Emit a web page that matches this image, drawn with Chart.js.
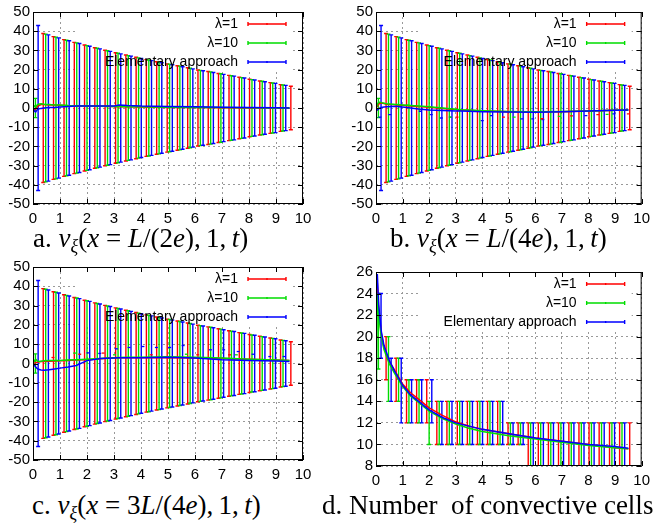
<!DOCTYPE html>
<html>
<head>
<meta charset="utf-8">
<script src="https://cdn.jsdelivr.net/npm/chart.js@4.4.1/dist/chart.umd.min.js"></script>
<style>
  body { margin: 0; background: #fff; width: 656px; height: 527px; overflow: hidden; position: relative; }
  canvas { position: absolute; }
  .cap { position: absolute; font-family: "Liberation Serif", "Times New Roman", serif; font-size: 27px; line-height: 27px; white-space: nowrap; color: #000; }
  .cap sub { font-size: 18px; vertical-align: -5px; }
</style>
</head>
<body>
<canvas id="chartA" width="328" height="232" style="left:0;top:0"></canvas>
<canvas id="chartB" width="328" height="232" style="left:328px;top:0"></canvas>
<canvas id="chartC" width="328" height="232" style="left:0;top:255px"></canvas>
<canvas id="chartD" width="328" height="245" style="left:328px;top:255px"></canvas>

<div class="cap" style="left:33px;top:225px">a. <i>v</i><sub><i>ξ</i></sub>(<i>x</i> = <i>L</i>/(2<i>e</i>),&thinsp;1,&thinsp;<i>t</i>)</div>
<div class="cap" style="left:390px;top:225px">b. <i>v</i><sub><i>ξ</i></sub>(<i>x</i> = <i>L</i>/(4<i>e</i>),&thinsp;1,&thinsp;<i>t</i>)</div>
<div class="cap" style="left:32px;top:492px">c. <i>v</i><sub><i>ξ</i></sub>(<i>x</i> = 3<i>L</i>/(4<i>e</i>),&thinsp;1,&thinsp;<i>t</i>)</div>
<div class="cap" style="left:322px;top:492px">d. Number&nbsp; of convective cells</div>

<script>
// series names and colours
const seriesNames = ['λ=1', 'λ=10', 'Elementary approach'];
const seriesColors = ['#ff0000', '#00dd00', '#0000ff'];

// times of the error bars (each series is shifted a little)
const redT   = [0, 0.38, 0.76, 1.15, 1.53, 1.91, 2.29, 2.67, 3.06, 3.44, 3.82, 4.2, 4.58, 4.97, 5.35, 5.73, 6.11, 6.49, 6.87, 7.26, 7.64, 8.02, 8.4, 8.79, 9.17, 9.55];
const greenT = [0.09, 0.47, 0.85, 1.24, 1.62, 2.0, 2.38, 2.76, 3.15, 3.53, 3.91, 4.29, 4.67, 5.06, 5.44, 5.82, 6.2, 6.58, 6.96, 7.35, 7.73, 8.11, 8.49, 8.88, 9.26];
const blueT  = [0.19, 0.57, 0.95, 1.34, 1.72, 2.1, 2.48, 2.86, 3.25, 3.63, 4.01, 4.39, 4.77, 5.16, 5.54, 5.92, 6.3, 6.68, 7.06, 7.45, 7.83, 8.21, 8.59, 8.98, 9.36];

// spread of the velocity (bars go from -spread to +spread), panels a-c
const redSpread   = [1, 38.8, 37.2, 35.6, 34.2, 32.8, 31.4, 30.1, 28.8, 27.6, 26.4, 25.2, 24.1, 23.0, 22.0, 21.0, 19.8, 19.0, 18.0, 17.0, 16.0, 15.0, 14.1, 13.2, 12.2, 11.3];
const greenSpread = [5, 38.5, 36.9, 35.3, 33.9, 32.5, 31.1, 29.8, 28.5, 27.3, 26.1, 25.0, 23.9, 22.8, 21.8, 20.7, 19.6, 18.8, 17.8, 16.8, 15.8, 14.8, 13.9, 13.0, 12.0];
const blueSpread  = [43, 38.1, 36.5, 35.0, 33.6, 32.2, 30.8, 29.5, 28.2, 27.0, 25.8, 24.7, 23.6, 22.5, 21.5, 20.4, 19.4, 18.5, 17.5, 16.6, 15.6, 14.6, 13.7, 12.8, 11.8];

// mean velocity curves
const lineT  = [0, 0.05, 0.1, 0.15, 0.2, 0.3, 0.4, 0.6, 0.8, 1.0, 1.3, 1.6, 2.0, 2.5, 3.0, 3.2, 3.5, 4.0, 5.0, 6.0, 7.0, 8.0, 9.0, 9.5];
const aRed   = [0, -1.2, -0.5, 0.5, 1.2, 1.8, 1.8, 1.6, 1.5, 1.4, 1.2, 1.1, 1.0, 0.9, 0.8, 0.7, 0.6, 0.5, 0.3, 0.2, 0.1, 0.0, 0.0, 0.0];
const aGreen = [0, 1.0, 0.5, 1.5, 2.0, 2.2, 2.0, 1.8, 1.6, 1.5, 1.3, 1.2, 1.0, 0.9, 0.8, 0.8, 0.7, 0.6, 0.4, 0.3, 0.2, 0.1, 0.0, 0.0];
const aBlue  = [0, -1.5, -2.0, -1.0, -0.5, -0.2, 0.0, 0.2, 0.3, 0.5, 0.8, 1.0, 1.0, 1.0, 1.1, 1.6, 1.3, 1.0, 0.8, 0.6, 0.4, 0.2, 0.1, 0.0];
const bRed   = [0, 1.0, 2.0, 2.5, 2.6, 2.3, 2.0, 1.8, 1.6, 1.4, 1.1, 0.8, 0.4, -0.2, -0.8, -1.0, -1.2, -1.5, -1.9, -2.0, -1.9, -1.5, -1.2, -1.0];
const bGreen = [0, 2.0, 3.0, 3.0, 2.8, 2.5, 2.2, 2.0, 1.8, 1.6, 1.3, 1.0, 0.6, 0.0, -0.6, -0.9, -1.1, -1.4, -1.8, -1.9, -1.8, -1.5, -1.2, -1.0];
const bBlue  = [0, -1.0, -0.5, 0.0, 0.3, 0.5, 0.6, 0.8, 0.8, 0.5, 0.0, -0.5, -1.0, -1.3, -1.5, -1.6, -1.7, -1.9, -2.1, -2.2, -2.0, -1.6, -1.2, -1.0];
const cRed   = [0, 0.2, 0.4, 0.6, 0.8, 1.0, 1.1, 1.2, 1.3, 1.4, 1.6, 1.8, 2.0, 2.5, 3.0, 3.0, 3.0, 3.0, 3.0, 2.9, 2.6, 2.2, 1.8, 1.5];
const cGreen = [0, 1.5, 2.2, 1.5, 1.0, 1.2, 1.4, 1.5, 1.5, 1.6, 1.8, 2.0, 2.2, 2.6, 3.0, 3.1, 3.2, 3.3, 3.5, 3.2, 2.8, 2.2, 1.8, 1.5];
const cBlue  = [0, -0.8, -1.8, -2.5, -3.0, -3.4, -3.5, -3.2, -2.8, -2.4, -1.8, -1.0, 1.5, 2.6, 2.9, 3.0, 3.0, 3.0, 3.3, 2.8, 2.0, 1.6, 1.3, 1.0];

// scattered sample marks seen in panels b and c
const bRedDotT   = [3.05, 4.8, 6.25, 7.36, 8.35, 9.5];
const bRedDotY   = [-4.8, -4.8, -5.6, -4.1, -3.5, -3.1];
const bGreenDotT = [1.2, 2.8, 5.2, 6.9, 8.7];
const bGreenDotY = [1.5, -4.8, -4.8, -4.4, -3.3];
const bBlueDotT  = [0.15, 0.52, 1.67, 2.08, 2.46, 2.8, 4.0, 4.35, 5.49, 5.9, 6.28, 7.9, 8.95];
const bBlueDotY  = [-4.8, -3.5, -1.7, -3.5, -5.2, -4.8, -6.6, -4.0, -5.7, -5.7, -6.0, -4.0, -3.1];
const cRedDotT   = [0.74, 1.73, 2.6, 4.38, 6.1, 7.28];
const cRedDotY   = [3.1, 4.8, 5.4, 4.5, 4.5, 4.5];
const cGreenDotT = [1.54, 3.02, 5.68, 7.53];
const cGreenDotY = [5.4, 4.5, 4.8, 4.5];
const cBlueDotT  = [2.04, 2.47, 3.09, 3.56, 4.07, 4.57, 5.06, 5.56, 6.57, 7.06, 7.6, 8.15, 8.77, 9.3];
const cBlueDotY  = [5.5, 5.2, 7.6, 8.3, 8.8, 8.3, 8.3, 9.3, 7.1, 7.1, 6.2, 4.8, 3.6, 3.6];

// number of convective cells (panel d)
const dT      = [0, 0.05, 0.1, 0.2, 0.3, 0.5, 0.7, 1.0, 1.3, 1.6, 2.0, 2.5, 3.0, 3.5, 4.0, 5.0, 6.0, 7.0, 8.0, 9.0, 9.5];
const dRed    = [22, 25, 22.5, 20.3, 19.0, 17.7, 16.9, 15.6, 14.8, 14.2, 13.4, 12.7, 12.1, 11.7, 11.4, 11.0, 10.6, 10.3, 10.0, 9.7, 9.6];
const dGreen  = [12, 24, 22, 20, 18.8, 17.5, 16.6, 15.4, 14.5, 13.9, 13.1, 12.4, 11.9, 11.5, 11.2, 10.8, 10.5, 10.2, 9.9, 9.7, 9.6];
const dBlue   = [24, 25.8, 23, 20.5, 19.2, 17.8, 16.8, 15.5, 14.6, 14.0, 13.2, 12.5, 12.0, 11.7, 11.4, 11.0, 10.6, 10.3, 10.0, 9.8, 9.65];
const dRedLo   = [20, 16, 14, 12, 12, 12, 10, 10, 10, 10, 10, 10, 10, 10, 10, 8, 8, 8, 8, 8, 8, 8, 8, 8, 8, 8];
const dRedHi   = [24, 20, 18, 16, 16, 16, 14, 14, 14, 14, 14, 14, 14, 12, 12, 12, 12, 12, 12, 12, 12, 12, 12, 12, 12, 12];
const dGreenLo = [17, 14, 14, 12, 12, 10, 10, 10, 10, 10, 10, 10, 10, 10, 10, 8, 8, 8, 8, 8, 8, 8, 8, 8, 8];
const dGreenHi = [24, 20, 18, 16, 16, 14, 14, 14, 14, 14, 14, 14, 14, 12, 12, 12, 12, 12, 12, 12, 12, 12, 12, 12, 12];
const dBlueLo  = [18, 14, 12, 12, 12, 12, 10, 10, 10, 10, 10, 10, 10, 10, 10, 8, 8, 8, 8, 8, 8, 8, 8, 8, 8];
const dBlueHi  = [24, 18, 18, 16, 16, 16, 14, 14, 14, 14, 14, 14, 14, 12, 12, 12, 12, 12, 12, 12, 12, 12, 12, 12, 12];

const tickFont = { family: '"Liberation Sans", Arial, sans-serif', size: 15 };

// gnuplot-like decorations: opaque key box, error bars, inner ticks, frame, key
const gnuplotLook = {
    id: 'gnuplotLook',
    beforeDatasetsDraw(chart) {
        const { ctx, chartArea: a, scales: { x, y } } = chart;
        ctx.save();
        ctx.fillStyle = '#fff';
        ctx.fillRect(a.left + 44, a.top + 1, a.right - a.left - 54, 59);
        ctx.beginPath();
        ctx.rect(a.left, a.top, a.right - a.left, a.bottom - a.top);
        ctx.clip();
        ctx.lineWidth = 1.4;
        chart.data.datasets.forEach(ds => {
            if (!ds.bars) return;
            ctx.strokeStyle = ds.borderColor;
            ds.bars.x.forEach((t, i) => {
                const px = x.getPixelForValue(t);
                const top = y.getPixelForValue(ds.bars.hi[i]);
                const bot = y.getPixelForValue(ds.bars.lo[i]);
                ctx.beginPath();
                ctx.moveTo(px, top); ctx.lineTo(px, bot);
                ctx.moveTo(px - 2, top); ctx.lineTo(px + 2, top);
                ctx.moveTo(px - 2, bot); ctx.lineTo(px + 2, bot);
                ctx.stroke();
            });
        });
        ctx.restore();
    },
    afterDatasetsDraw(chart) {
        const { ctx, chartArea: a, scales: { x, y } } = chart;
        ctx.save();
        ctx.strokeStyle = '#000';
        ctx.lineWidth = 1;
        ctx.beginPath();
        y.ticks.forEach(t => {
            const py = Math.round(y.getPixelForValue(t.value)) + 0.5;
            ctx.moveTo(a.left, py); ctx.lineTo(a.left + 5, py);
            ctx.moveTo(a.right, py); ctx.lineTo(a.right - 5, py);
        });
        x.ticks.forEach(t => {
            const px = Math.round(x.getPixelForValue(t.value)) + 0.5;
            ctx.moveTo(px, a.bottom); ctx.lineTo(px, a.bottom - 5);
            ctx.moveTo(px, a.top); ctx.lineTo(px, a.top + 5);
        });
        ctx.stroke();
        ctx.strokeRect(a.left + 0.5, a.top + 0.5, a.right - a.left - 1, a.bottom - a.top - 1);

        // key
        ctx.font = '14px "Liberation Sans", Arial, sans-serif';
        ctx.textAlign = 'right';
        ctx.textBaseline = 'middle';
        chart.data.datasets.filter(ds => ds.inKey).forEach((ds, k) => {
            const ky = a.top + 12 + 19 * k;
            ctx.fillStyle = '#000';
            ctx.fillText(ds.label, a.right - 65, ky);
            ctx.strokeStyle = ds.borderColor;
            ctx.lineWidth = 1.4;
            ctx.beginPath();
            ctx.moveTo(a.right - 55, ky); ctx.lineTo(a.right - 17, ky);
            ctx.moveTo(a.right - 55, ky - 2); ctx.lineTo(a.right - 55, ky + 2);
            ctx.moveTo(a.right - 17, ky - 2); ctx.lineTo(a.right - 17, ky + 2);
            ctx.moveTo(a.right - 36, ky - 1); ctx.lineTo(a.right - 36, ky + 1);
            ctx.stroke();
        });
        ctx.restore();
    }
};

function pairs(xs, ys) {
    return xs.map((t, i) => ({ x: t, y: ys[i] }));
}

function makePanel(id, opts) {
    const datasets = opts.series.map((s, k) => ({
        type: 'line',
        label: seriesNames[k],
        inKey: true,
        data: pairs(s.t, s.y),
        borderColor: seriesColors[k],
        borderWidth: 1.5,
        pointRadius: 0,
        tension: 0,
        order: 3 - k,
        bars: s.bars
    }));
    (opts.dots || []).forEach((d, k) => {
        datasets.push({
            type: 'line',
            label: seriesNames[k] + ' samples',
            data: pairs(d.t, d.y),
            showLine: false,
            pointStyle: 'line',
            pointRadius: 1.5,
            borderWidth: 1.3,
            borderColor: seriesColors[k],
            order: 5
        });
    });
    return new Chart(document.getElementById(id), {
        type: 'line',
        data: { datasets },
        plugins: [gnuplotLook],
        options: {
            responsive: false,
            animation: false,
            events: [],
            layout: { padding: { top: opts.top, right: opts.right, left: 0, bottom: 0 } },
            scales: {
                x: {
                    type: 'linear', min: 0, max: 10,
                    ticks: { stepSize: 1, autoSkip: false, color: '#000', font: tickFont, padding: 6, maxRotation: 0 },
                    grid: { color: '#999', lineWidth: 1, drawTicks: false },
                    border: { display: false, dash: [2, 3] },
                    afterFit: s => { s.height = opts.xh; }
                },
                y: {
                    min: opts.ymin, max: opts.ymax,
                    ticks: { stepSize: opts.ystep, autoSkip: false, color: '#000', font: tickFont, padding: 3 },
                    grid: { color: '#999', lineWidth: 1, drawTicks: false },
                    border: { display: false, dash: [2, 3] },
                    afterFit: s => { s.width = opts.yw; }
                }
            },
            plugins: { legend: { display: false }, tooltip: { enabled: false } }
        }
    });
}

function spreadBars(t, spread) {
    return { x: t, lo: spread.map(v => -v), hi: spread };
}

makePanel('chartA', {
    top: 11, right: 25, yw: 33, xh: 28, ymin: -50, ymax: 50, ystep: 10,
    series: [
        { t: lineT, y: aRed, bars: spreadBars(redT, redSpread) },
        { t: lineT, y: aGreen, bars: spreadBars(greenT, greenSpread) },
        { t: lineT, y: aBlue, bars: spreadBars(blueT, blueSpread) }
    ]
});
makePanel('chartB', {
    top: 11, right: 12, yw: 48, xh: 28, ymin: -50, ymax: 50, ystep: 10,
    series: [
        { t: lineT, y: bRed, bars: spreadBars(redT, redSpread) },
        { t: lineT, y: bGreen, bars: spreadBars(greenT, greenSpread) },
        { t: lineT, y: bBlue, bars: spreadBars(blueT, blueSpread) }
    ],
    dots: [
        { t: bRedDotT, y: bRedDotY },
        { t: bGreenDotT, y: bGreenDotY },
        { t: bBlueDotT, y: bBlueDotY }
    ]
});
makePanel('chartC', {
    top: 12, right: 25, yw: 33, xh: 27, ymin: -50, ymax: 50, ystep: 10,
    series: [
        { t: lineT, y: cRed, bars: spreadBars(redT, redSpread) },
        { t: lineT, y: cGreen, bars: spreadBars(greenT, greenSpread) },
        { t: lineT, y: cBlue, bars: spreadBars(blueT, blueSpread) }
    ],
    dots: [
        { t: cRedDotT, y: cRedDotY },
        { t: cGreenDotT, y: cGreenDotY },
        { t: cBlueDotT, y: cBlueDotY }
    ]
});
makePanel('chartD', {
    top: 17, right: 12, yw: 48, xh: 34, ymin: 8, ymax: 26, ystep: 2,
    series: [
        { t: dT, y: dRed, bars: { x: redT, lo: dRedLo, hi: dRedHi } },
        { t: dT, y: dGreen, bars: { x: greenT, lo: dGreenLo, hi: dGreenHi } },
        { t: dT, y: dBlue, bars: { x: blueT, lo: dBlueLo, hi: dBlueHi } }
    ]
});
</script>
</body>
</html>
